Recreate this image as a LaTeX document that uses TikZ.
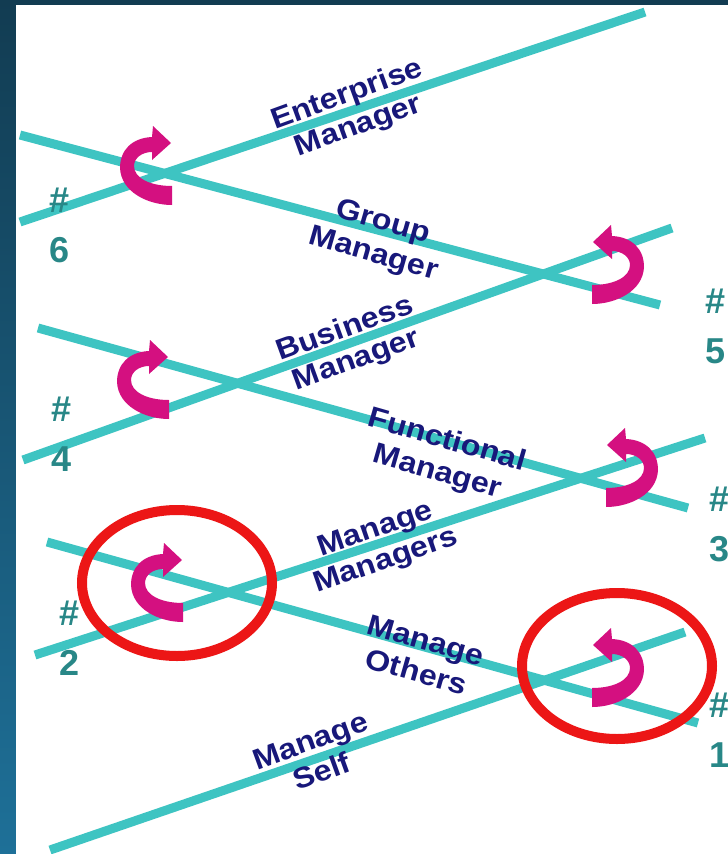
\documentclass[tikz,border=0pt]{standalone}
\usepackage{fontspec}
\setmainfont{Liberation Sans}
\newfontfamily\lblfont{Liberation Sans}[FakeStretch=1.11]
\definecolor{frameTop}{RGB}{18,60,82}
\definecolor{frameBot}{RGB}{30,112,152}
\definecolor{rung}{RGB}{62,196,194}
\definecolor{navy}{RGB}{24,24,122}
\definecolor{stepno}{RGB}{40,135,135}
\definecolor{turncol}{RGB}{212,16,128}
\definecolor{ring}{RGB}{236,22,22}
\tikzset{
  rungline/.style={draw=rung, line width=9pt},
  lbl/.style={text=navy, align=center, font=\lblfont\bfseries\fontsize{29}{33}\selectfont, inner sep=0pt},
  stepnum/.style={text=stepno, align=center, font=\bfseries\fontsize{36}{50}\selectfont, inner sep=0pt},
  ringmark/.style={draw=ring, line width=10pt},
  turn/.pic={
    \fill[turncol] (22,35) .. controls (-2,35) and (-29,22) .. (-30,-2)
      .. controls (-30,-20) and (-18,-32) .. (2,-33) -- (3,-44) -- (21,-27)
      -- (2,-10) -- (2,-18) .. controls (-8,-18) and (-16,-12) .. (-16,-4)
      .. controls (-16,8) and (0,16) .. (22,16) -- cycle;
  }
}
\begin{document}
\begin{tikzpicture}[x=1pt, y=-1pt]
  % frame and white panel
  \useasboundingbox (0,0) rectangle (728,854);
  \shade[top color=frameTop, bottom color=frameBot] (0,0) rectangle (728,854);
  \fill[white] (16,5) rectangle (728,854);

  % end points of the seven career lines
  \coordinate (s1) at (50,850);   \coordinate (e1) at (685,632);
  \coordinate (s2) at (47,542);   \coordinate (e2) at (698,723);
  \coordinate (s3) at (35,655);   \coordinate (e3) at (705,438);
  \coordinate (s4) at (38,328);   \coordinate (e4) at (688,508);
  \coordinate (s5) at (23,460);   \coordinate (e5) at (672,228);
  \coordinate (s6) at (20,135);   \coordinate (e6) at (660,305);
  \coordinate (s7) at (20,222);   \coordinate (e7) at (645,12);

  \foreach \i in {1,...,7} { \path[rungline] (s\i) -- (e\i); }

  % passage labels
  \node[lbl, rotate=20]  (ent) at (353,111) {Enterprise\\Manager};
  \node[lbl, rotate=-16] (grp) at (378,239) {Group\\Manager};
  \node[lbl, rotate=20]  (bus) at (351,345) {Business\\Manager};
  \node[lbl, rotate=-16] (fun) at (442,457) {Functional\\Manager};
  \node[lbl, rotate=19]  (mms) at (381,546) {Manage\\Managers};
  \node[lbl, rotate=-16] (oth) at (421,656) {Manage\\Others};
  \node[lbl, rotate=20]  (slf) at (316,756) {Manage\\Self};

  % passage numbers
  \node[stepnum] (n6) at (60,225)  {\#\\6};
  \node[stepnum] (n5) at (716,326) {\#\\5};
  \node[stepnum] (n4) at (62,434)  {\#\\4};
  \node[stepnum] (n3) at (720,524) {\#\\3};
  \node[stepnum] (n2) at (70,638)  {\#\\2};
  \node[stepnum] (n1) at (720,730) {\#\\1};

  % turning arrows at the crossings
  \pic at (150,170) {turn};
  \pic at (147,384) {turn};
  \pic at (161,587) {turn};
  \pic[xscale=-1] at (614,269) {turn};
  \pic[xscale=-1] at (628,472) {turn};
  \pic[xscale=-1] at (614,672) {turn};

  % highlight rings
  \draw[ringmark] (177,583) ellipse [x radius=95, y radius=73];
  \draw[ringmark] (617,666) ellipse [x radius=95, y radius=73];
\end{tikzpicture}
\end{document}
